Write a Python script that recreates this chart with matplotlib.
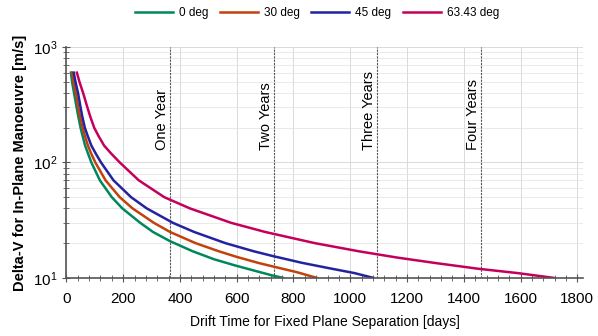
import numpy as np
import matplotlib.pyplot as plt
from matplotlib.ticker import MultipleLocator, LogLocator, NullFormatter

plt.rcParams['font.family'] = ['Liberation Sans', 'DejaVu Sans']

# drift time [days], delta-v [m/s]
d_0 = [16, 20, 27, 36, 42, 50, 57, 66, 76, 88, 118, 160, 197, 260, 305, 365,
       445, 520, 595, 665, 725, 763]
v_0 = [600, 500, 400, 300, 250, 200, 170, 140, 120, 100, 70, 50, 40, 30, 25, 20.8,
       17, 14.5, 12.8, 11.5, 10.5, 10]

d_30 = [20, 25, 33, 42, 48, 57, 65, 76, 87, 102, 138, 188, 233, 308, 365, 455,
        537, 600, 675, 725, 812, 882]
v_30 = [600, 500, 400, 300, 250, 200, 170, 140, 120, 100, 70, 50, 40, 30, 25, 20,
        17, 15.2, 13.5, 12.6, 11.2, 10]

d_45 = [26, 32, 41, 50, 56, 65, 75, 88, 103, 122, 166, 228, 283, 375, 450, 560,
        660, 725, 830, 935, 1015, 1081]
v_45 = [600, 500, 400, 300, 250, 200, 170, 140, 120, 100, 70, 50, 40, 30, 25, 20,
        17, 15.5, 13.5, 12, 11, 10]

d_63 = [37, 46, 59, 74, 84, 98, 113, 133, 157, 188, 255, 345, 435, 580, 700, 875,
        1030, 1165, 1295, 1450, 1590, 1716]
v_63 = [600, 500, 400, 300, 250, 200, 170, 140, 120, 100, 70, 50, 40, 30, 25, 20,
        17, 15, 13.5, 12, 11, 10]

years = [365, 730, 1095, 1460]
year_labels = ['One Year', 'Two Years', 'Three Years', 'Four Years']

fig = plt.figure(figsize=(5.98, 3.36), dpi=100)
ax = fig.add_axes([0.111, 0.173, 0.864, 0.687])

ax.plot(d_0, v_0, color='#00875e', lw=1.8, label='0 deg')
ax.plot(d_30, v_30, color='#c2410c', lw=1.8, label='30 deg')
ax.plot(d_45, v_45, color='#2323a0', lw=1.8, label='45 deg')
ax.plot(d_63, v_63, color='#c4005c', lw=1.8, label='63.43 deg')

for x, lab in zip(years, year_labels):
    ax.axvline(x, color='#555555', lw=0.8, ls=(0, (2, 1)), zorder=1)
    ax.text(x - 3, 128, lab, rotation=90, ha='right', va='bottom', fontsize=10.5)

ax.set_yscale('log')
ax.set_xlim(0, 1820)
ax.set_ylim(10, 1000)
ax.xaxis.set_major_locator(MultipleLocator(200))
ax.xaxis.set_minor_locator(MultipleLocator(40))
ax.yaxis.set_minor_locator(LogLocator(base=10, subs=np.arange(2, 10)))
ax.yaxis.set_minor_formatter(NullFormatter())

ax.grid(which='major', color='#d4d4d4', lw=0.6)
ax.grid(which='minor', axis='y', color='#e2e2e2', lw=0.5)
ax.set_axisbelow(True)

for s in ['top', 'right']:
    ax.spines[s].set_visible(False)
for s in ['left', 'bottom']:
    ax.spines[s].set_color('#555555')
    ax.spines[s].set_linewidth(1.2)

ax.tick_params(which='both', direction='inout', colors='#555555', labelcolor='black',
               labelsize=11)
ax.tick_params(which='major', length=6)
ax.tick_params(which='minor', length=4)
ax.tick_params(axis='x', pad=7)

ax.set_xlabel('Drift Time for Fixed Plane Separation [days]', fontsize=10, labelpad=7)
ax.set_ylabel('Delta-V for In-Plane Manoeuvre [m/s]', fontsize=10.5, fontweight='bold')

fig.legend(loc='upper center', bbox_to_anchor=(0.53, 1.01), ncol=4, frameon=False,
           fontsize=8.5, handlelength=3.2, columnspacing=1.0, handletextpad=0.5)

fig.savefig('out.png', dpi=100)
